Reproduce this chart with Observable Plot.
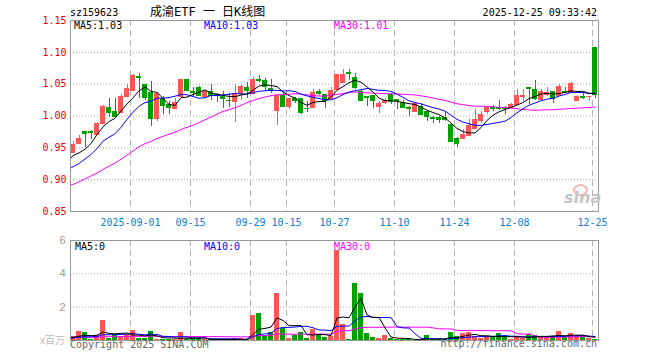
<!DOCTYPE html>
<html><head><meta charset="utf-8">
<script src="https://cdn.jsdelivr.net/npm/d3@7"></script>
<script src="https://cdn.jsdelivr.net/npm/@observablehq/plot@0.6"></script>
<style>
body{margin:0;background:#fff;}
#wrap{position:relative;width:660px;height:360px;overflow:hidden;background:#fff;font-family:"DejaVu Sans Mono",monospace;}
.t{position:absolute;font-size:10px;line-height:10px;white-space:nowrap;}
#main,#vol{position:absolute;left:0;}
#main{top:0}#vol{top:230px}
</style></head><body>
<div id="wrap">
<div id="main"></div><div id="vol"></div>
<div class="t" style="left:70px;top:8px;color:#000">sz159623</div>
<div class="t" style="left:150px;top:6px;font-size:12px;line-height:12px;font-family:'DejaVu Sans Mono','Noto Sans CJK SC',monospace;color:#000">成渝ETF 一 日K线图</div>
<div class="t" style="right:63px;top:8px;color:#000">2025-12-25 09:33:42</div>
<div class="t" style="left:74px;top:21px;color:#000">MA5:1.03</div>
<div class="t" style="left:204px;top:21px;color:#0000ff">MA10:1.03</div>
<div class="t" style="left:334px;top:21px;color:#ff00ff">MA30:1.01</div>
<div class="t" style="left:75px;top:242px;color:#000">MA5:0</div>
<div class="t" style="left:204px;top:242px;color:#0000ff">MA10:0</div>
<div class="t" style="left:334px;top:242px;color:#ff00ff">MA30:0</div>
<div class="t" style="right:595px;top:335px;color:#bbb;font-family:'Noto Sans CJK SC',sans-serif">x百万</div>
<div class="t" style="left:70px;top:340px;color:#666">Copyright 2025 SINA.COM</div>
<div class="t" style="right:63px;top:339px;color:#666">http://finance.sina.com.cn</div>
<div style="position:absolute;left:573px;top:184px;width:11px;height:8px;border:2px solid #f5b5b5;border-radius:50%"></div>
<div class="t" style="left:564px;top:190px;font-size:16px;line-height:16px;font-weight:bold;font-style:italic;font-family:'DejaVu Sans',sans-serif;color:#c4c4c4">sina</div>
</div>
<script>
// ---- data ----
const tickIdx = [10,20,30,36,44,54,64,74,87];
const tickLab = ["2025-09-01","09-15","09-29","10-15","10-27","11-10","11-24","12-08","12-25"];
const yTicks = [0.85,0.90,0.95,1.00,1.05,1.10,1.15];
const volTicks = [2,4,6];

const open = [
.943,.957,.975,.976,.971,.989,1.014,1.007,1.005,1.031,
1.040,1.062,1.049,1.037,.996,1.028,1.018,1.012,1.030,1.057,
1.038,1.044,1.030,1.039,1.033,1.031,1.025,1.023,1.036,1.044,
1.036,1.057,1.055,1.043,1.009,1.032,1.015,1.027,1.027,1.012,
1.014,1.038,1.033,1.027,1.042,1.053,1.068,1.060,1.039,1.031,
1.032,1.015,1.021,1.033,1.026,1.021,1.013,1.007,1.015,1.007,
.998,.997,.997,.987,.965,.965,.969,.980,.993,1.007,
1.014,1.014,1.013,1.014,1.018,1.031,1.045,1.042,1.026,1.033,
1.038,1.032,1.038,1.037,1.024,1.030,1.030,1.107];
const high = [
.960,.969,.975,.978,.990,1.017,1.027,1.027,1.033,1.050,
1.065,1.067,1.050,1.054,1.037,1.031,1.023,1.028,1.057,1.057,
1.044,1.046,1.040,1.049,1.035,1.038,1.036,1.049,1.050,1.053,
1.061,1.064,1.059,1.057,1.032,1.037,1.028,1.029,1.028,1.023,
1.041,1.041,1.034,1.044,1.065,1.073,1.073,1.067,1.041,1.031,
1.032,1.023,1.028,1.036,1.026,1.024,1.015,1.020,1.020,1.007,
1.000,.999,1.007,.987,.967,.979,.995,1.010,1.007,1.014,
1.017,1.025,1.015,1.019,1.041,1.041,1.045,1.055,1.041,1.045,
1.038,1.050,1.045,1.053,1.032,1.035,1.031,1.107];
const low = [
.942,.956,.950,.963,.969,.988,.997,.998,1.004,1.030,
1.039,1.028,1.024,.984,.992,1.002,1.002,1.011,1.028,1.038,
1.031,1.030,1.029,1.024,1.021,1.012,1.013,.990,1.025,1.027,
1.035,1.052,1.039,1.036,.985,1.013,1.010,1.019,1.002,1.006,
1.013,1.032,1.012,1.026,1.042,1.052,1.056,1.041,1.023,1.015,
1.012,1.004,1.018,1.018,1.010,1.014,1.000,1.005,1.002,.992,
.989,.989,.992,.958,.950,.963,.968,.979,.989,1.002,
1.007,1.008,1.002,1.012,1.018,1.023,1.018,1.025,1.024,1.031,
1.020,1.031,1.036,1.037,1.023,1.026,1.023,1.028];
const close = [
.955,.965,.973,.974,.988,1.015,1.006,.999,1.031,1.043,
1.064,1.061,1.029,.996,1.036,1.016,1.014,1.021,1.057,1.040,
1.037,1.032,1.039,1.032,1.032,1.027,1.024,1.036,1.046,1.040,
1.057,1.056,1.046,1.040,1.032,1.015,1.028,1.025,1.005,1.011,
1.037,1.036,1.025,1.040,1.065,1.065,1.066,1.045,1.024,1.029,
1.024,1.019,1.025,1.023,1.024,1.014,1.011,1.019,1.002,.999,
.996,.995,.994,.960,.957,.971,.985,.994,1.002,1.013,
1.012,1.012,1.012,1.018,1.032,1.032,1.043,1.028,1.038,1.037,
1.027,1.046,1.037,1.051,1.031,1.029,1.031,1.033];
// volume, millions of shares
const volume = [
0.23,0.53,0.47,0.06,0.29,1.2,0.1,0.35,0.23,0.35,
0.59,0.1,0.1,0.53,0.05,0.05,0.05,0.05,0.47,0.05,
0.1,0.1,0.05,0.05,0.05,0.05,0.05,0.1,0.1,0.05,
1.52,1.65,0.3,0.5,2.81,0.75,0.1,0.3,0.5,0.1,
0.65,0.3,0.2,0.22,5.38,0.94,0.08,3.40,2.85,0.41,
0.16,0.10,0.28,0.10,0.08,0.08,0.05,0.02,0.04,0.28,
0.05,0.05,0.05,0.47,0.24,0.41,0.47,0.22,0.10,0.22,
0.22,0.41,0.22,0.06,0.22,0.10,0.37,0.33,0.22,0.22,
0.22,0.53,0.22,0.41,0.22,0.22,0.10,0.04];
// off-screen sessions before the first visible day (feed the moving averages)
const priorClose = [0.835,0.838,0.842,0.845,0.848,0.850,0.852,0.850,0.855,0.858,
0.870,0.880,0.892,0.900,0.910,0.918,0.925,0.930,0.935,0.940,
0.910,0.905,0.900,0.898,0.897,0.945,0.944,0.930,0.916];
const priorVol = [0.2,0.15,0.25,0.18,0.2,0.12,0.22,0.15,0.2,0.25,
0.18,0.2,0.15,0.2,0.22,0.18,0.16,0.2,0.2,0.19,
0.1,0.08,0.12,0.1,0.1,0.2,0.18,0.2,0.15];

// ---- drawing ----
const RED = "#ff5555", GREEN = "#00a000";
const N = close.length;
const candles = d3.range(N).map(i => ({i, o: open[i], h: high[i], l: low[i], c: close[i], v: volume[i]}));
const col = d => d.c >= d.o ? RED : GREEN;
const P = priorClose.length;
const allClose = priorClose.concat(close);
const allVol = priorVol.concat(volume);
const labelOf = Object.fromEntries(tickIdx.map((t, j) => [t, tickLab[j]]));
const mx = (d, k) => k - P + 0.42;
const style = {fontFamily: "'DejaVu Sans Mono', monospace", fontSize: "10px", background: "transparent", overflow: "visible"};
const ma = (arr, k, stroke) => Plot.lineY(arr, Plot.windowY({k, anchor: "end"}, {x: mx, y: d => d, stroke, strokeWidth: 1, clip: true}));

const main = Plot.plot({
  width: 660, height: 230, marginTop: 20, marginBottom: 19, marginLeft: 70, marginRight: 62,
  style,
  x: {domain: [0, N], axis: null, label: null},
  y: {domain: [0.85, 1.15], axis: null, label: null},
  marks: [
    Plot.ruleY(yTicks.slice(1, -1), {stroke: "#aaa", strokeDasharray: "1,2"}),
    Plot.ruleX(tickIdx, {stroke: "#b4b4b4", strokeDasharray: "6,4"}),
    Plot.axisY({ticks: yTicks, tickFormat: d3.format(".2f"), tickSize: 0, tickPadding: 4, fill: "#e00000", fontSize: 10, label: null}),
    Plot.axisX({ticks: tickIdx, tickFormat: d => labelOf[d], tickSize: 0, tickPadding: 7, fill: "#0a80d0", fontSize: 10, label: null}),
    Plot.ruleX(candles, {x: d => d.i + 0.42, y1: "l", y2: "h", stroke: col, shapeRendering: "crispEdges"}),
    Plot.rect(candles, {x1: d => d.i + 0.05, x2: d => d.i + 0.85, y1: "o", y2: "c", fill: col, shapeRendering: "crispEdges"}),
    Plot.ruleY(candles, {x1: d => d.i + 0.05, x2: d => d.i + 0.85, y: "o", stroke: col, shapeRendering: "crispEdges"}),
    Plot.ruleY(candles, {x1: d => d.i + 0.05, x2: d => d.i + 0.85, y: "c", stroke: col, shapeRendering: "crispEdges"}),
    ma(allClose, 30, "#ff00ff"),
    ma(allClose, 10, "#0000ff"),
    ma(allClose, 5, "#000000"),
    Plot.frame({stroke: "#999"})
  ]
});
document.getElementById("main").append(main);

const vol = Plot.plot({
  width: 660, height: 130, marginTop: 10, marginBottom: 20, marginLeft: 70, marginRight: 62,
  style: {...style, fontFamily: "'Liberation Sans', sans-serif"},
  x: {domain: [0, N], axis: null, label: null},
  y: {domain: [0, 6], axis: null, label: null},
  marks: [
    Plot.ruleY(volTicks.slice(0, -1), {stroke: "#aaa", strokeDasharray: "1,2"}),
    Plot.ruleX(tickIdx, {stroke: "#b4b4b4", strokeDasharray: "6,4"}),
    Plot.axisY({ticks: volTicks, tickFormat: d3.format("d"), tickSize: 0, tickPadding: 5, fill: "#999", fontSize: 11, label: null}),
    Plot.rect(candles, {x1: d => d.i + 0.05, x2: d => d.i + 0.85, y1: 0, y2: "v", fill: col, shapeRendering: "crispEdges"}),
    ma(allVol, 30, "#ff00ff"),
    ma(allVol, 10, "#0000ff"),
    ma(allVol, 5, "#000000"),
    Plot.frame({stroke: "#999"})
  ]
});
document.getElementById("vol").append(vol);
</script>
</body></html>
